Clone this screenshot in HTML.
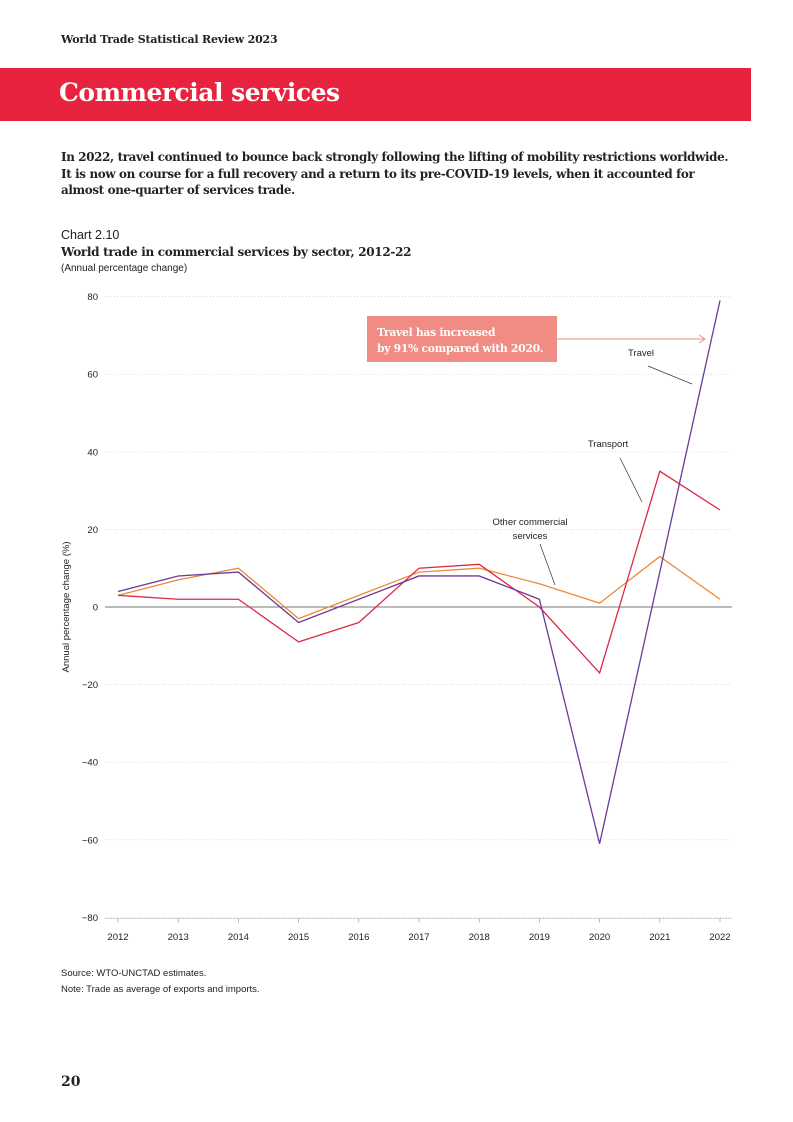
<!DOCTYPE html>
<html><head><meta charset="utf-8"><style>
body{margin:0;width:793px;height:1122px;background:#fff;position:relative;font-family:"Liberation Sans",sans-serif;color:#222;overflow:hidden}
.abs{position:absolute}
</style></head><body>
<div class="abs" style="left:61px;top:33px;font:bold 11px 'DejaVu Serif',serif;letter-spacing:-0.2px">World Trade Statistical Review 2023</div>
<div class="abs" style="left:0;top:68px;width:751px;height:53px;background:#e8233f"></div>
<div class="abs" style="left:59px;top:78px;font:bold 25px 'DejaVu Serif',serif;color:#fff;letter-spacing:-0.5px">Commercial services</div>
<div class="abs" style="left:61px;top:149px;white-space:nowrap;font:bold 11.9px/16.5px 'DejaVu Serif',serif;letter-spacing:-0.35px">In 2022, travel continued to bounce back strongly following the lifting of mobility restrictions worldwide.<br>It is now on course for a full recovery and a return to its pre-COVID-19 levels, when it accounted for<br>almost one-quarter of services trade.</div>
<div class="abs" style="left:61px;top:228px;font-size:12.5px">Chart 2.10</div>
<div class="abs" style="left:61px;top:245px;font:bold 12px 'DejaVu Serif',serif;letter-spacing:-0.3px">World trade in commercial services by sector, 2012-22</div>
<div class="abs" style="left:61px;top:263px;font-size:10px">(Annual percentage change)</div>
<svg class="abs" style="left:0;top:0" width="793" height="1122" id="chart"></svg>
<div class="abs" style="left:61px;top:966px;font-size:9.5px;line-height:16px">Source: WTO-UNCTAD estimates.<br>Note: Trade as average of exports and imports.</div>
<div class="abs" style="left:61px;top:1074px;font:bold 14px 'DejaVu Serif',serif">20</div>
<script>
const years=[2012,2013,2014,2015,2016,2017,2018,2019,2020,2021,2022];
const travel=[4,8,9,-4,2,8,8,2,-61,9,79];
const transport=[3,2,2,-9,-4,10,11,0,-17,35,25];
const other=[3,7,10,-3,3,9,10,6,1,13,2];
const yTicks=[80,60,40,20,0,-20,-40,-60,-80];
const NS="http://www.w3.org/2000/svg";
const svg=document.getElementById('chart');
const X0=118,X1=720,Y0=607,YS=3.88;
const x=i=>X0+(X1-X0)*i/(years.length-1);
const y=v=>Y0-v*YS;
function mk(t,a){const e=document.createElementNS(NS,t);for(const k in a)e.setAttribute(k,a[k]);svg.appendChild(e);return e;}
yTicks.forEach(v=>{
  const g=mk('line',{x1:105,x2:732,y1:y(v),y2:y(v),stroke:v===0?'#777':'#ccc','stroke-width':v===0?1:0.7,'stroke-dasharray':v===0?'':'1,2'});
  
  
  const t=mk('text',{x:98,y:y(v)+3.5,'text-anchor':'end','font-size':'9.5',fill:'#222'});
  t.textContent=v<0?'\u2212'+(-v):v;
  
  
});
mk('line',{x1:105,x2:732,y1:y(-80)+1,y2:y(-80)+1,stroke:'#ccc','stroke-width':0.7});
years.forEach((yr,i)=>{
  const tk=mk('line',{x1:x(i),x2:x(i),y1:y(-80)+1,y2:y(-80)+5,stroke:'#999','stroke-width':0.7});
  
  
  const t=mk('text',{x:x(i),y:940,'text-anchor':'middle','font-size':'9.5',fill:'#222'});
  t.textContent=yr;
  
  
});
const yt=mk('text',{x:0,y:0,transform:'translate(69,607) rotate(-90)','text-anchor':'middle','font-size':'9.5',fill:'#222'});
yt.textContent='Annual percentage change (%)';


[[other,'#ec8a3a','other-commercial-services-line'],[transport,'#dc2a45','transport-line'],[travel,'#6b3a98','travel-line']].forEach(([d,c,n])=>{
  const p=mk('polyline',{points:d.map((v,i)=>x(i)+','+y(v)).join(' '),fill:'none',stroke:c,'stroke-width':1.3});
  
  
});
function lbl(txt,xx,yy,n){const t=mk('text',{x:xx,y:yy,'text-anchor':'middle','font-size':'9.5',fill:'#222'});t.textContent=txt;}
lbl('Travel',641,356,'travel-label');
mk('line',{x1:648,y1:366,x2:692,y2:384,stroke:'#333','stroke-width':0.7});
lbl('Transport',608,447,'transport-label');
mk('line',{x1:620,y1:458,x2:642,y2:502,stroke:'#333','stroke-width':0.7});
lbl('Other commercial',530,525,'other-label-line1');
lbl('services',530,539,'other-label-line2');
mk('line',{x1:540,y1:544,x2:555,y2:585,stroke:'#333','stroke-width':0.7});
const box=mk('rect',{x:367,y:316,width:190,height:46,fill:'#f08c84'});


const a1=mk('text',{x:377,y:336,'font-size':'10.8','font-weight':'bold',fill:'#fff','font-family':'DejaVu Serif, serif','letter-spacing':'-0.3'});a1.textContent='Travel has increased';


const a2=mk('text',{x:377,y:352,'font-size':'10.8','font-weight':'bold',fill:'#fff','font-family':'DejaVu Serif, serif','letter-spacing':'-0.3'});a2.textContent='by 91% compared with 2020.';


const ar=mk('path',{d:'M557 339 H705 M699 335 L705 339 L699 343',fill:'none',stroke:'#f08c84','stroke-width':1});


</script>
</body></html>
